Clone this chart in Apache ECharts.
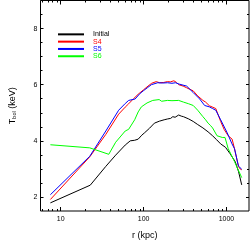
<!DOCTYPE html>
<html><head><meta charset="utf-8">
<script src="https://cdn.jsdelivr.net/npm/echarts@6/dist/echarts.min.js"></script>
<style>html,body{margin:0;padding:0;background:#fff}#c{width:250px;height:245px}</style>
</head><body><div id="c"></div>
<script>
// r (kpc), T_bol (keV)
const initialData = [[7.5,1.79],[22.7,2.42],[35,3.09],[46,3.49],[60,3.85],[69,4.0],[78,4.02],[86,4.06],[95,4.2],[103,4.29],[118,4.45],[135,4.63],[155,4.7],[177,4.75],[195,4.78],[212,4.80],[225,4.86],[240,4.84],[265,4.92],[285,4.88],[303,4.86],[350,4.78],[397,4.69],[450,4.58],[520,4.46],[600,4.32],[680,4.18],[760,4.04],[851,3.89],[973,3.77],[1100,3.55],[1274,3.26],[1400,2.9],[1527,2.43]];
const s4Data = [[7.5,1.91],[22.4,3.43],[35,4.23],[50,4.95],[60,5.2],[66,5.32],[75,5.49],[86,5.66],[100,5.82],[113,5.95],[125,6.05],[142,6.11],[156,6.07],[175,6.08],[194,6.11],[210,6.10],[232,6.14],[250,6.08],[265,6.0],[300,5.95],[331,5.89],[397,5.78],[450,5.6],[520,5.44],[560,5.38],[622,5.25],[743,5.15],[851,4.69],[940,4.4],[1050,4.18],[1100,4.12],[1170,4.06],[1250,3.72],[1395,3.09],[1460,3.0],[1527,2.97]];
const s5Data = [[7.5,2.08],[22.4,3.45],[35,4.35],[50,5.09],[60,5.33],[66,5.44],[79,5.49],[90,5.68],[99,5.78],[112,5.9],[124,6.0],[148,6.07],[170,6.06],[194,6.07],[220,6.05],[242,6.07],[270,6.02],[331,5.95],[397,5.72],[475,5.49],[545,5.26],[622,5.21],[680,5.15],[743,5.09],[851,4.75],[1019,4.29],[1167,3.89],[1250,3.72],[1395,3.1],[1460,3.03],[1527,2.99]];
const s6Data = [[7.5,3.86],[22.4,3.75],[38,3.52],[46,3.95],[60,4.35],[66,4.41],[78,4.75],[86,5.03],[94,5.21],[110,5.35],[129,5.44],[154,5.47],[165,5.41],[194,5.44],[220,5.43],[265,5.44],[303,5.38],[350,5.32],[397,5.26],[450,5.09],[520,4.86],[560,4.75],[600,4.63],[640,4.55],[680,4.46],[770,4.18],[890,4.12],[960,4.12],[1050,3.72],[1250,3.26],[1527,2.69]];
const seriesNames = ['Initial','S4','S5','S6'];
const seriesColors = ['#000000','#ff0000','#0000ff','#00ff00'];
const xMajorTicks = [10,100,1000];
const xMinorTicks = [6,7,8,9,20,30,40,50,60,70,80,90,200,300,400,500,600,700,800,900];
const yMajorTicks = [2,4,6,8];
const yMinorTicks = [2,2.5,3,3.5,4,4.5,5,5.5,6,6.5,7,7.5,8,8.5,9];

const FONT = 'Liberation Sans, Arial, sans-serif';
const XMIN = 5.7, XMAX = 1870, YMIN = 1.5, YMAX = 9;

function xAx(pos, vals, len, labels, extra) {
  return Object.assign({
    type: 'log', logBase: 10, min: XMIN, max: XMAX, position: pos,
    axisLine: {show: false},
    splitLine: {show: false},
    axisTick: {show: true, inside: true, length: len, customValues: vals, lineStyle: {color: '#000', width: 1}},
    axisLabel: labels ? {show: true, customValues: xMajorTicks, color: '#000', fontSize: 7, fontFamily: FONT, margin: 5, formatter: v => String(Math.round(v))} : {show: false}
  }, extra || {});
}
function yAx(pos, vals, len, labels, extra) {
  return Object.assign({
    type: 'value', min: YMIN, max: YMAX, position: pos,
    axisLine: {show: false},
    splitLine: {show: false},
    axisTick: {show: true, inside: true, length: len, customValues: vals, lineStyle: {color: '#000', width: 1}},
    axisLabel: labels ? {show: true, customValues: yMajorTicks, color: '#000', fontSize: 7, fontFamily: FONT, margin: 3} : {show: false}
  }, extra || {});
}

const datasets = [initialData, s4Data, s5Data, s6Data];
const chart = echarts.init(document.getElementById('c'), null, {renderer: 'canvas'});
chart.setOption({
  animation: false,
  backgroundColor: '#fff',
  grid: {left: 32, right: 1, top: 0.5, bottom: 28, show: true, borderColor: '#000', borderWidth: 1, backgroundColor: 'transparent'},
  legend: {
    orient: 'vertical', left: 53, top: 25.7, itemWidth: 26, itemHeight: 2, itemGap: 0,
    icon: 'rect',
    data: seriesNames.map((n, i) => ({name: n, textStyle: {color: seriesColors[i]}})),
    textStyle: {fontSize: 7, fontFamily: FONT, lineHeight: 7.3, padding: [0,0,0,4]}
  },
  xAxis: [
    xAx('bottom', xMajorTicks, 4, true, {name: 'r (kpc)', nameLocation: 'middle', nameGap: 20, nameTextStyle: {fontSize: 9, fontFamily: FONT, color: '#000'}}),
    xAx('bottom', xMinorTicks, 2, false),
    xAx('top', xMajorTicks, 4, false),
    xAx('top', xMinorTicks, 2, false)
  ],
  yAxis: [
    yAx('left', yMajorTicks, 3, true, {
      name: '{t|T}{s|bol}{t| (keV)}', nameLocation: 'middle', nameGap: 23, nameRotate: 90,
      nameTextStyle: {fontFamily: FONT, color: '#000', rich: {t: {fontSize: 9, fontFamily: FONT, color: '#000'}, s: {fontSize: 5.5, fontFamily: FONT, color: '#000', verticalAlign: 'bottom', padding: [4,0,0,0]}}}
    }),
    yAx('left', yMinorTicks, 2, false),
    yAx('right', yMajorTicks, 3, false),
    yAx('right', yMinorTicks, 2, false)
  ],
  series: datasets.map((d, i) => ({
    name: seriesNames[i], type: 'line', data: d, xAxisIndex: 0, yAxisIndex: 0,
    showSymbol: false, symbol: 'none', smooth: false,
    lineStyle: {color: seriesColors[i], width: 1},
    itemStyle: {color: seriesColors[i]}
  }))
});
</script></body></html>
